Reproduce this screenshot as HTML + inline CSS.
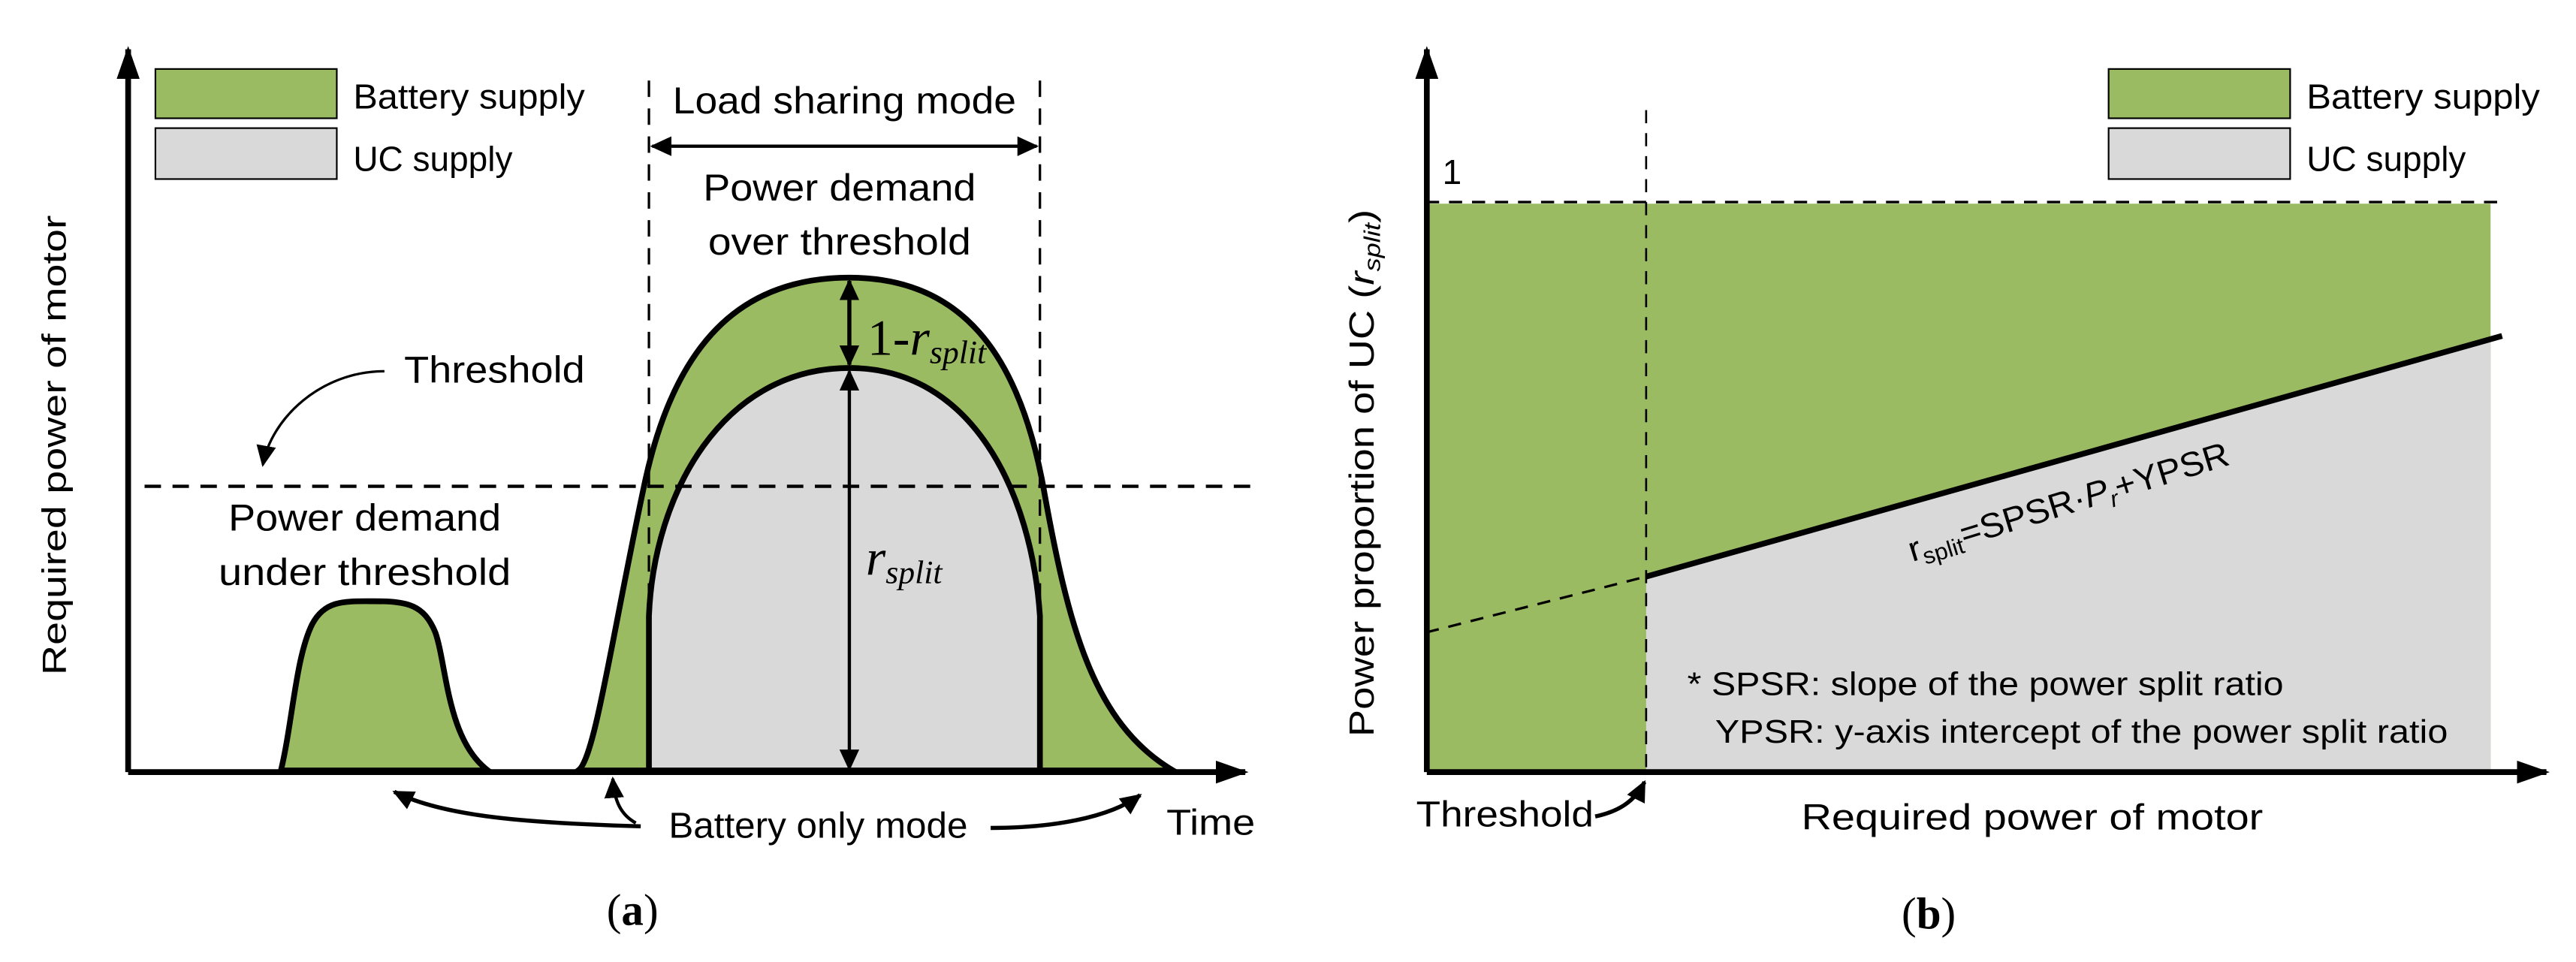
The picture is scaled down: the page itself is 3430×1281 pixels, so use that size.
<!DOCTYPE html>
<html><head><meta charset="utf-8"><style>
html,body{margin:0;padding:0;background:#fff;}
svg{display:block;}
text{font-family:"Liberation Sans Narrow","Liberation Sans",sans-serif;fill:#000;}
.s{font-family:"Liberation Sans",sans-serif;}
.m{font-family:"Liberation Serif",serif;}
</style></head><body>
<svg width="3430" height="1281" viewBox="0 0 1568 585.6" xmlns="http://www.w3.org/2000/svg">
<defs>
<marker id="big" viewBox="0 0 10 10" refX="9" refY="5" markerWidth="20" markerHeight="14" orient="auto" markerUnits="userSpaceOnUse" preserveAspectRatio="none">
<path d="M0,0 L10,5 L0,10 Z" fill="#000"/></marker>
<marker id="sm" viewBox="0 0 10 10" refX="9" refY="5" markerWidth="13" markerHeight="12" orient="auto-start-reverse" markerUnits="userSpaceOnUse" preserveAspectRatio="none">
<path d="M0,0 L10,5 L0,10 Z" fill="#000"/></marker>
</defs>

<!-- ===== Panel (a) ===== -->
<path d="M171,469 C178,440 180,400 190,380 C198,365 210,366 228,366 C248,366 258,368 265,385 C272,405 272,450 297,469 Z" fill="#9bbb62" stroke="#000" stroke-width="3.5"/>
<path d="M352,469 C362,462 372,390 392,296 C410,210 450,169 517,169 C585,169 620,215 635,296 C650,380 665,440 714,469 Z" fill="#9bbb62" stroke="#000" stroke-width="3.5"/>
<path d="M395,469 L395,375 C398,300 440,224 517,224 C592,224 628,300 633,375 L633,469 Z" fill="#d9d9d9" stroke="#000" stroke-width="3.5"/>
<line x1="88" y1="296" x2="765" y2="296" stroke="#000" stroke-width="2" stroke-dasharray="10,7"/>
<line x1="395" y1="49" x2="395" y2="469" stroke="#000" stroke-width="1.5" stroke-dasharray="10,7"/>
<line x1="633" y1="49" x2="633" y2="469" stroke="#000" stroke-width="1.5" stroke-dasharray="10,7"/>
<line x1="78" y1="470" x2="78" y2="30" stroke="#000" stroke-width="3.5" marker-end="url(#big)"/>
<line x1="78" y1="470" x2="758" y2="470" stroke="#000" stroke-width="3.5" marker-end="url(#big)"/>
<line x1="397" y1="89" x2="631" y2="89" stroke="#000" stroke-width="2" marker-start="url(#sm)" marker-end="url(#sm)"/>
<line x1="517" y1="171" x2="517" y2="222" stroke="#000" stroke-width="2.5" marker-start="url(#sm)" marker-end="url(#sm)"/>
<line x1="517" y1="226" x2="517" y2="468" stroke="#000" stroke-width="2" marker-start="url(#sm)" marker-end="url(#sm)"/>
<rect x="94.6" y="42" width="110.4" height="30" fill="#9bbb62" stroke="#000" stroke-width="1"/>
<rect x="94.6" y="78" width="110.4" height="31" fill="#d9d9d9" stroke="#000" stroke-width="1"/>
<text x="215" y="66" font-size="21" textLength="141" lengthAdjust="spacingAndGlyphs">Battery supply</text>
<text x="215" y="104" font-size="21" textLength="97" lengthAdjust="spacingAndGlyphs">UC supply</text>
<text x="514" y="69" font-size="23" text-anchor="middle" textLength="209" lengthAdjust="spacingAndGlyphs">Load sharing mode</text>
<text x="511" y="122" font-size="23" text-anchor="middle" textLength="166" lengthAdjust="spacingAndGlyphs">Power demand</text>
<text x="511" y="155" font-size="23" text-anchor="middle" textLength="160" lengthAdjust="spacingAndGlyphs">over threshold</text>
<text x="246" y="233" font-size="23" textLength="110" lengthAdjust="spacingAndGlyphs">Threshold</text>
<text x="222" y="323" font-size="23" text-anchor="middle" textLength="166" lengthAdjust="spacingAndGlyphs">Power demand</text>
<text x="222" y="356" font-size="23" text-anchor="middle" textLength="178" lengthAdjust="spacingAndGlyphs">under threshold</text>
<text x="498" y="510" font-size="22" text-anchor="middle" textLength="182" lengthAdjust="spacingAndGlyphs">Battery only mode</text>
<text x="710" y="508" font-size="22" textLength="54" lengthAdjust="spacingAndGlyphs">Time</text>
<text x="528" y="216" font-size="31" class="m">1-<tspan font-style="italic">r</tspan><tspan font-style="italic" font-size="20" dy="5">split</tspan></text>
<text x="527" y="350" font-size="31" class="m" font-style="italic">r<tspan font-size="20" dy="5">split</tspan></text>
<text transform="translate(40,271) rotate(-90)" font-size="20.5" class="s" text-anchor="middle" textLength="280" lengthAdjust="spacingAndGlyphs">Required power of motor</text>
<text x="385" y="563" font-size="27" class="m" text-anchor="middle">(<tspan font-weight="bold">a</tspan>)</text>
<path d="M234,226 C195,226 165,255 160,283" fill="none" stroke="#000" stroke-width="1.5" marker-end="url(#sm)"/>
<path d="M390,503 C320,501 270,497 240,482" fill="none" stroke="#000" stroke-width="2.5" marker-end="url(#sm)"/>
<path d="M387,501 C378,496 374,488 373,474" fill="none" stroke="#000" stroke-width="2" marker-end="url(#sm)"/>
<path d="M603,504 C640,504 675,498 694,484" fill="none" stroke="#000" stroke-width="2.5" marker-end="url(#sm)"/>

<!-- ===== Panel (b) ===== -->
<rect x="868.5" y="124" width="647.5" height="346" fill="#9bbb62"/>
<path d="M1002,351 L1516,207 L1516,470 L1002,470 Z" fill="#d9d9d9"/>
<line x1="868" y1="123" x2="1521" y2="123" stroke="#000" stroke-width="1.5" stroke-dasharray="8,6"/>
<line x1="1002" y1="67" x2="1002" y2="470" stroke="#000" stroke-width="1.2" stroke-dasharray="8,6"/>
<line x1="868" y1="385" x2="1002" y2="351" stroke="#000" stroke-width="1.5" stroke-dasharray="8,6"/>
<line x1="1002" y1="351" x2="1523" y2="204.5" stroke="#000" stroke-width="3.5"/>
<line x1="868.5" y1="470" x2="868.5" y2="30" stroke="#000" stroke-width="3.5" marker-end="url(#big)"/>
<line x1="868.5" y1="470" x2="1550" y2="470" stroke="#000" stroke-width="3.5" marker-end="url(#big)"/>
<rect x="1283.5" y="42" width="110.5" height="30" fill="#9bbb62" stroke="#000" stroke-width="1"/>
<rect x="1283.5" y="78" width="110.5" height="31" fill="#d9d9d9" stroke="#000" stroke-width="1"/>
<text x="1404" y="66" font-size="21" textLength="142" lengthAdjust="spacingAndGlyphs">Battery supply</text>
<text x="1404" y="104" font-size="21" textLength="97" lengthAdjust="spacingAndGlyphs">UC supply</text>
<text x="878" y="112" font-size="21">1</text>
<text transform="translate(1164,342) rotate(-17)" font-size="21" textLength="203" lengthAdjust="spacingAndGlyphs">r<tspan font-size="14" dy="4">split</tspan><tspan dy="-4">=SPSR·</tspan><tspan font-style="italic">P</tspan><tspan font-size="14" dy="4" font-style="italic">r</tspan><tspan dy="-4">+YPSR</tspan></text>
<text x="1027" y="423" font-size="20" textLength="363" lengthAdjust="spacingAndGlyphs">* SPSR: slope of the power split ratio</text>
<text x="1044" y="452" font-size="20" textLength="446" lengthAdjust="spacingAndGlyphs">YPSR: y-axis intercept of the power split ratio</text>
<text x="862" y="503" font-size="22" textLength="108" lengthAdjust="spacingAndGlyphs">Threshold</text>
<text x="1237" y="505" font-size="22" text-anchor="middle" textLength="281" lengthAdjust="spacingAndGlyphs">Required power of motor</text>
<path d="M971,497 C985,494 995,488 1001,476" fill="none" stroke="#000" stroke-width="2.5" marker-end="url(#sm)"/>
<text transform="translate(836,288) rotate(-90)" font-size="21" class="s" text-anchor="middle" textLength="321" lengthAdjust="spacingAndGlyphs">Power proportion of UC (<tspan font-style="italic">r</tspan><tspan font-style="italic" font-size="14" dy="4">split</tspan><tspan dy="-4">)</tspan></text>
<text x="1174" y="565" font-size="27" class="m" text-anchor="middle">(<tspan font-weight="bold">b</tspan>)</text>
</svg>
</body></html>
